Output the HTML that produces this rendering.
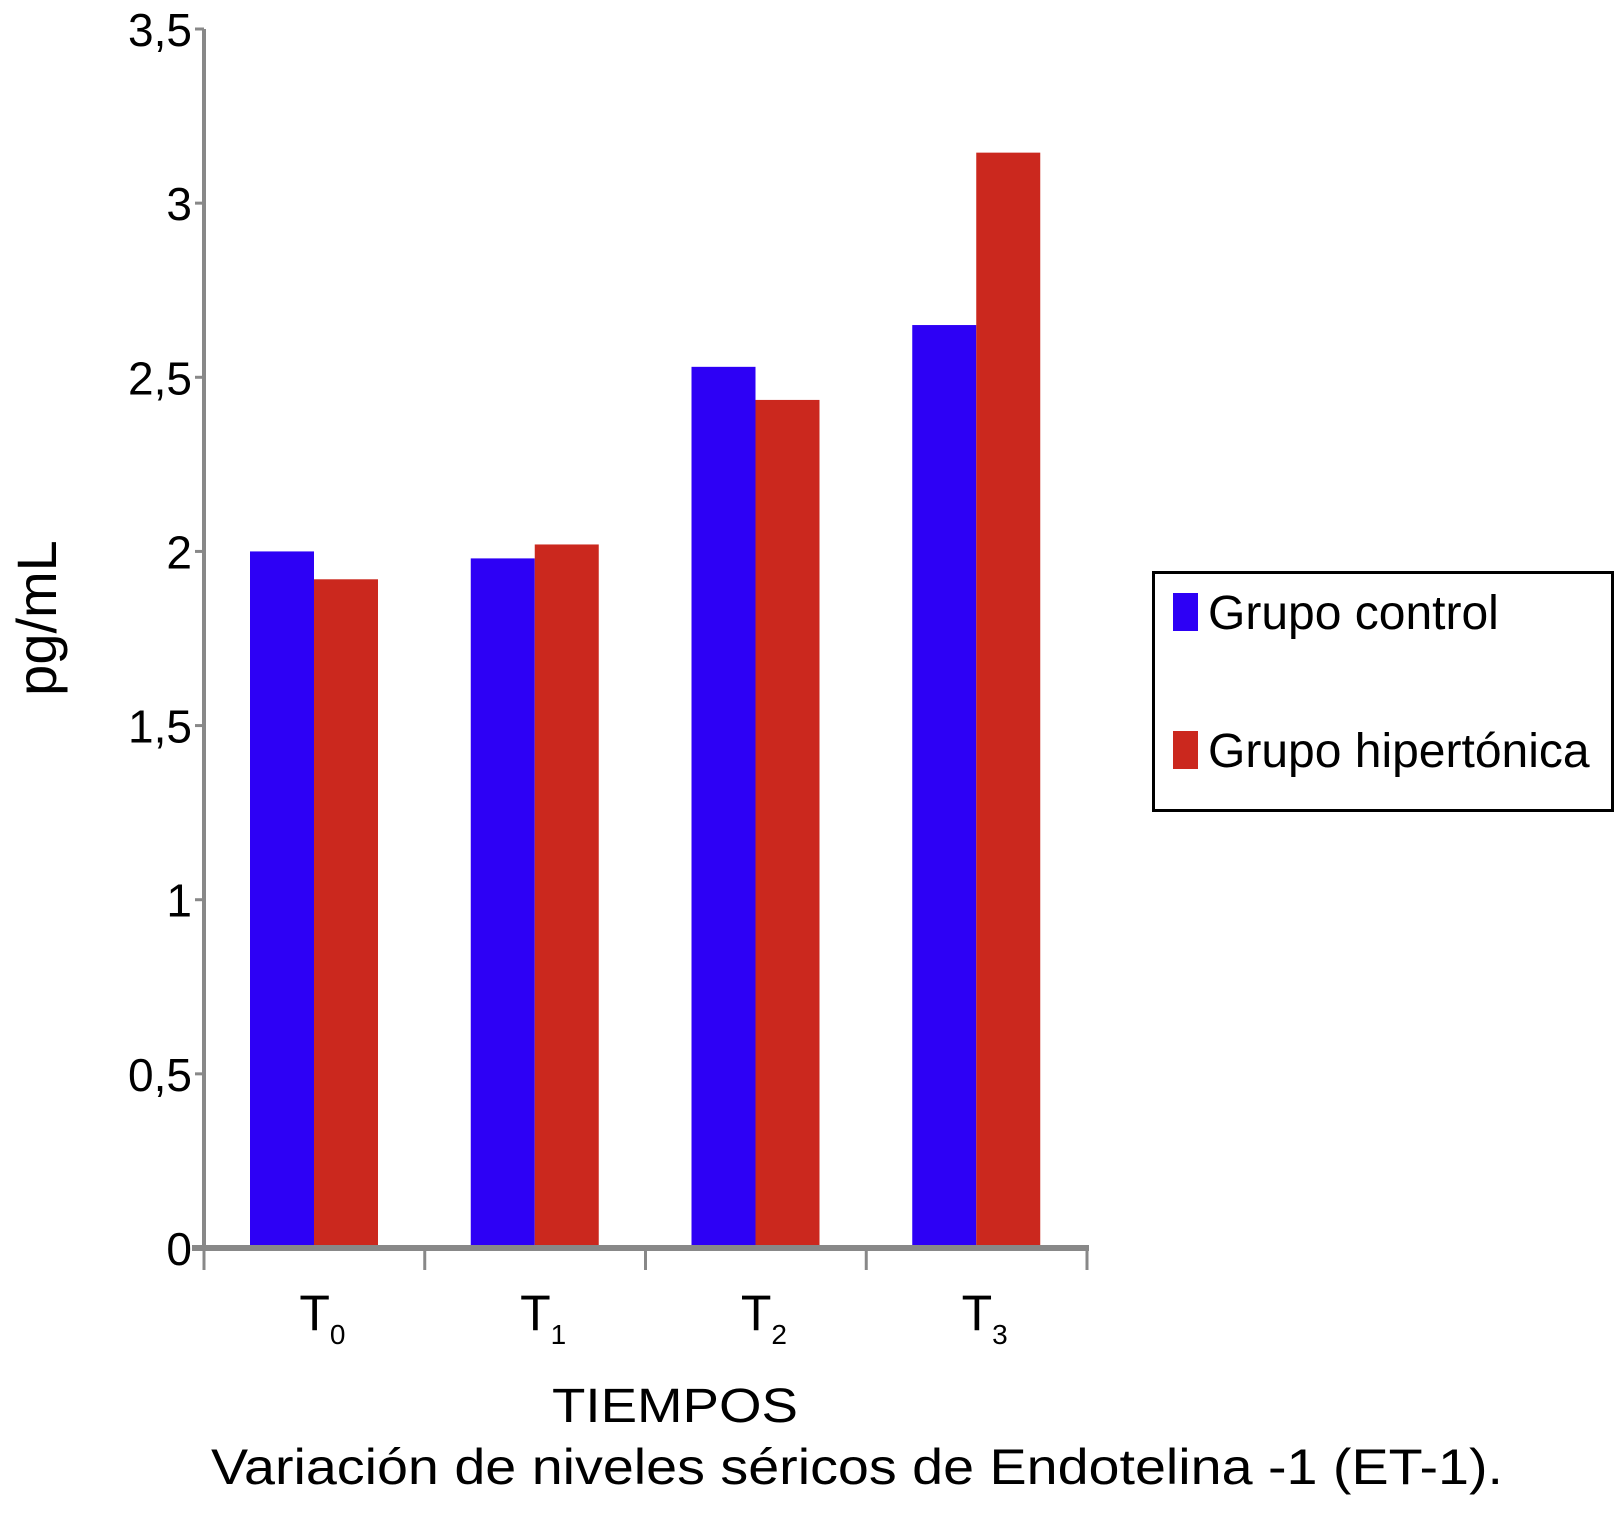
<!DOCTYPE html>
<html><head><meta charset="utf-8"><style>body{margin:0;background:#fff}svg{display:block}text{font-family:"Liberation Sans",sans-serif;fill:#000}</style></head>
<body>
<svg id="chart" width="1616" height="1514" viewBox="0 0 1616 1514" xmlns="http://www.w3.org/2000/svg">
<g id="axes"></g><g id="bars"></g>
<text transform="translate(56,618) rotate(-90)" text-anchor="middle" font-size="56">pg/mL</text>
<text x="675" y="1422" text-anchor="middle" font-size="48" textLength="246" lengthAdjust="spacingAndGlyphs">TIEMPOS</text>
<text x="211" y="1484" font-size="50" textLength="1292" lengthAdjust="spacingAndGlyphs">Variación de niveles séricos de Endotelina -1 (ET-1).</text>
<g>
<rect x="1153.5" y="572.5" width="459" height="238" fill="#fff" stroke="#000" stroke-width="3"/>
<rect x="1173" y="593" width="25" height="38" fill="#2d00f5"/>
<text x="1208" y="629" font-size="48">Grupo control</text>
<rect x="1173" y="731" width="25" height="38" fill="#cb281e"/>
<text x="1208" y="767" font-size="48">Grupo hipertónica</text>
</g>
</svg>
<script>
const categories = ["0","1","2","3"];
const control = [2.0, 1.98, 2.53, 2.65];
const hipertonica = [1.92, 2.02, 2.435, 3.145];
const yTicks = [0, 0.5, 1, 1.5, 2, 2.5, 3, 3.5];
const yTickLabels = ["0","0,5","1","1,5","2","2,5","3","3,5"];
const NS="http://www.w3.org/2000/svg";
const x0=204,x1=1087,yBase=1248,yTop=29,yMax=3.5;
const y=v=>yBase-(yBase-yTop)*v/yMax;
const gw=(x1-x0)/categories.length;
function mk(tag,attrs,parent){const e=document.createElementNS(NS,tag);for(const k in attrs)e.setAttribute(k,attrs[k]);parent.appendChild(e);return e;}
const axes=document.getElementById('axes'),bars=document.getElementById('bars');
let e=mk('line',{x1:x0,y1:yTop,x2:x0,y2:yBase+2,stroke:'#888','stroke-width':4},axes);


yTicks.forEach((t,i)=>{
 const l=mk('line',{x1:x0-9,y1:y(t),x2:x0,y2:y(t),stroke:'#888','stroke-width':3},axes);
 
 
 const tx=mk('text',{x:x0-12,y:y(t)+17,'text-anchor':'end','font-size':46},axes);
 tx.textContent=yTickLabels[i];
 
 
});
categories.forEach((c,i)=>{
 const gx=x0+gw*i;
 const b1=mk('rect',{x:gx+46,y:y(control[i]),width:64,height:yBase-y(control[i]),fill:'#2d00f5'},bars);
 
 
 const b2=mk('rect',{x:gx+110,y:y(hipertonica[i]),width:64,height:yBase-y(hipertonica[i]),fill:'#cb281e'},bars);
 
 
 const t=mk('text',{x:gx+gw/2-15,y:1330,'font-size':50},axes);
 t.innerHTML='T<tspan font-size="28" dy="14">'+c+'</tspan>';
 
 
});
for(let i=0;i<=categories.length;i++){
 const l=mk('line',{x1:x0+gw*i,y1:yBase,x2:x0+gw*i,y2:yBase+22,stroke:'#888','stroke-width':3},axes);
 
 
}
e=mk('line',{x1:x0-12,y1:yBase,x2:x1+2,y2:yBase,stroke:'#888','stroke-width':6},bars);


</script>
</body></html>
